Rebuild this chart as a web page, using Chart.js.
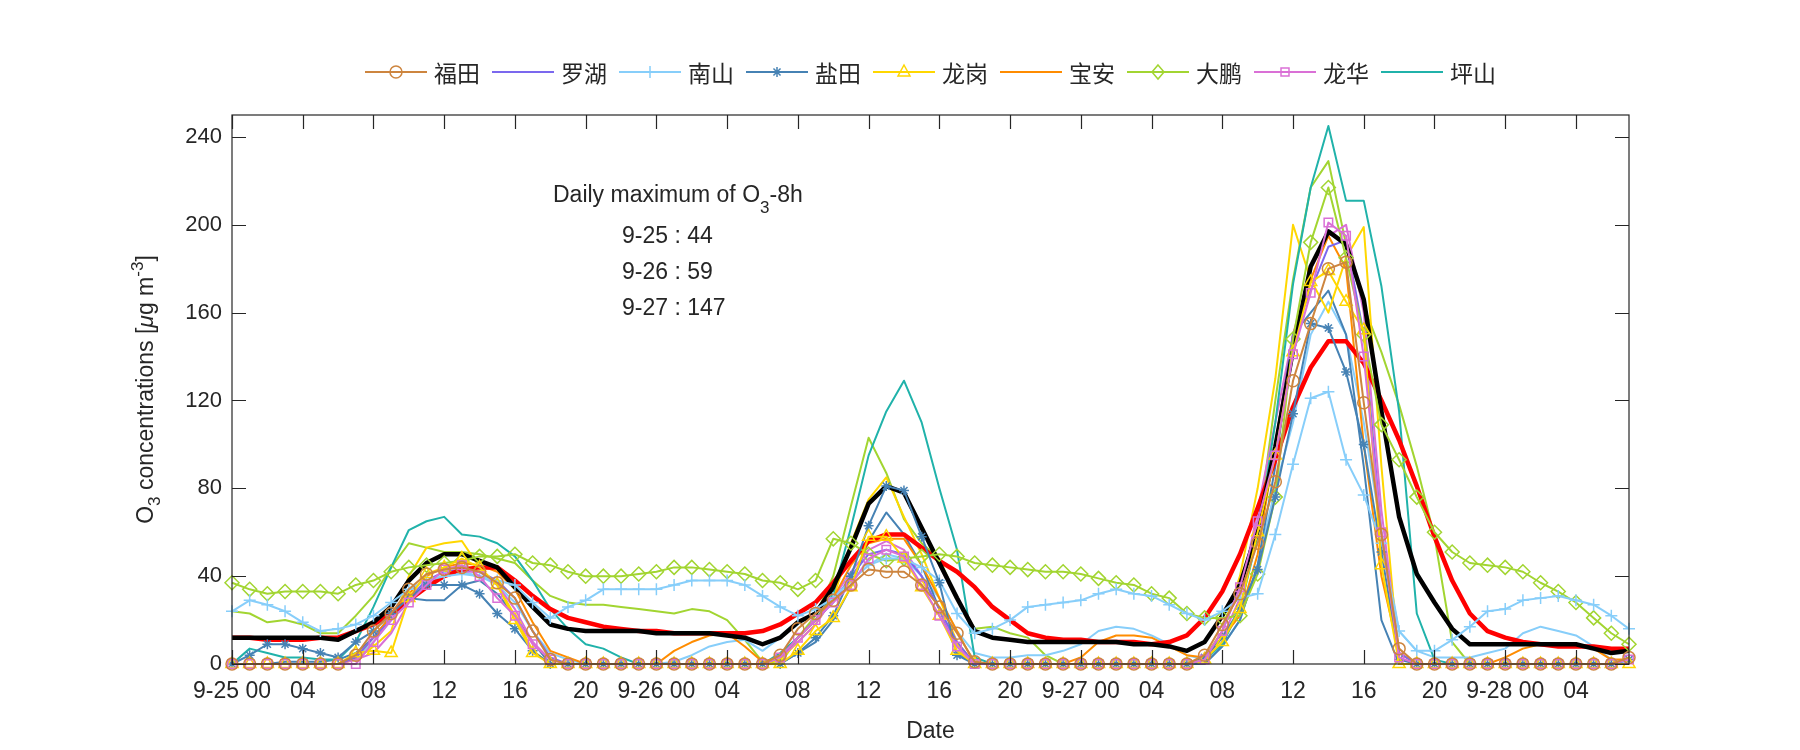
<!DOCTYPE html>
<html>
<head>
<meta charset="utf-8">
<script src="https://cdn.jsdelivr.net/npm/chart.js@4/dist/chart.umd.min.js"></script>
<style>
  html, body { margin: 0; padding: 0; background: #fff; }
  canvas { display: block; }
</style>
</head>
<body>
<canvas id="o3Chart" width="1800" height="750"></canvas>
<script>
// tick labels, one every 4 hours from 9-25 00 (hour 0) to 9-28 04 (hour 76)
const tickLabels = ["9-25 00", "04", "08", "12", "16", "20",
  "9-26 00", "04", "08", "12", "16", "20",
  "9-27 00", "04", "08", "12", "16", "20",
  "9-28 00", "04"];

const stationNames = ["福田", "罗湖", "南山", "盐田", "龙岗", "宝安", "大鹏", "龙华", "坪山"];
const dailyMax = ["9-25 : 44", "9-26 : 59", "9-27 : 147"];

// hourly O3, hour 0 = 9-25 00:00 ... hour 79 = 9-28 07:00
const futian = [
  0, 0, 0, 0, 0, 0, 0, 4, 15, 23, 34, 41, 43, 44, 42, 37, 30, 15, 2, 0, 0, 0, 0, 0,
  0, 0, 0, 0, 0, 0, 0, 4, 16, 23, 29, 36, 43, 42, 42, 36, 26, 14, 1, 0, 0, 0, 0, 0,
  0, 0, 0, 0, 0, 0, 0, 4, 18, 32, 55, 83, 129, 155, 180, 183, 119, 59, 7, 0, 0, 0, 0, 0,
  0, 0, 0, 0, 0, 0, 0, 3];
const luohu = [
  0, 0, 0, 0, 0, 0, 0, 3, 12, 20, 30, 38, 42, 43, 42, 38, 30, 15, 3, 0, 0, 0, 0, 0,
  0, 0, 0, 0, 0, 0, 0, 3, 12, 20, 28, 40, 50, 52, 50, 40, 25, 10, 0, 0, 0, 0, 0, 0,
  0, 0, 0, 0, 0, 0, 0, 2, 15, 35, 65, 100, 150, 170, 190, 193, 150, 60, 5, 0, 0, 0, 0, 0,
  0, 0, 0, 0, 0, 0, 0, 0];
const nanshan = [
  24, 29, 27, 24, 19, 15, 16, 18, 22, 28, 34, 38, 40, 41, 40, 38, 36, 28, 21, 26, 29, 34, 34, 34,
  34, 36, 38, 38, 38, 36, 31, 26, 22, 25, 30, 38, 45, 48, 48, 44, 38, 23, 14, 16, 20, 26, 27, 28,
  29, 32, 34, 32, 31, 27, 23, 20, 24, 30, 32, 59, 91, 121, 124, 93, 77, 55, 15, 6, 6, 11, 17, 24,
  25, 29, 30, 31, 29, 27, 22, 16];
const yantian = [
  0, 4, 9, 9, 7, 5, 3, 10, 15, 23, 30, 36, 36, 36, 32, 23, 16, 6, 0, 0, 0, 0, 0, 0,
  0, 0, 0, 0, 0, 0, 0, 0, 5, 12, 22, 40, 63, 81, 79, 58, 37, 4, 0, 0, 0, 0, 0, 0,
  0, 0, 0, 0, 0, 0, 0, 3, 12, 25, 43, 76, 114, 155, 153, 133, 100, 51, 2, 0, 0, 0, 0, 0,
  0, 0, 0, 0, 0, 0, 0, 2];
const longgang = [
  0, 0, 0, 0, 0, 0, 0, 5, 6, 5, 30, 41, 44, 48, 44, 36, 20, 5, 0, 0, 0, 0, 0, 0,
  0, 0, 0, 0, 0, 0, 0, 0, 6, 15, 21, 35, 58, 58, 48, 35, 22, 6, 0, 0, 0, 0, 0, 0,
  0, 0, 0, 0, 0, 0, 0, 2, 10, 25, 60, 95, 142, 174, 179, 165, 152, 45, 0, 0, 0, 0, 0, 0,
  0, 0, 0, 0, 0, 0, 0, 0];
const baoan = [
  0, 0, 0, 0, 0, 0, 0, 3, 12, 22, 32, 40, 44, 46, 45, 42, 34, 19, 6, 3, 0, 0, 0, 0,
  0, 6, 10, 13, 14, 8, 1, 3, 12, 20, 30, 45, 55, 57, 57, 45, 30, 15, 0, 0, 0, 0, 0, 0,
  3, 10, 13, 13, 12, 8, 4, 3, 12, 22, 50, 100, 150, 175, 195, 180, 100, 40, 5, 0, 0, 0, 0, 0,
  3, 7, 9, 8, 9, 7, 2, 2];
const dapeng = [
  37, 34, 32, 33, 33, 33, 32, 36, 38, 42, 44, 45, 46, 47, 49, 49, 50, 46, 45, 42, 40, 40, 40, 41,
  42, 44, 44, 43, 42, 41, 38, 37, 34, 38, 57, 55, 50, 47, 48, 49, 50, 49, 46, 45, 44, 43, 42, 42,
  41, 39, 37, 36, 32, 30, 23, 21, 21, 22, 41, 76, 148, 192, 217, 185, 150, 109, 93, 76, 60, 51, 46, 45,
  44, 42, 37, 33, 28, 21, 14, 9];
const longhua = [
  0, 0, 0, 0, 0, 0, 0, 0, 10, 20, 28, 36, 43, 45, 40, 30, 22, 9, 2, 0, 0, 0, 0, 0,
  0, 0, 0, 0, 0, 0, 0, 3, 12, 20, 28, 36, 48, 52, 49, 36, 22, 8, 0, 0, 0, 0, 0, 0,
  0, 0, 0, 0, 0, 0, 0, 2, 15, 35, 65, 95, 141, 169, 201, 195, 140, 60, 3, 0, 0, 0, 0, 0,
  0, 0, 0, 0, 0, 0, 0, 2];
const pingshan = [
  0, 7, 5, 3, 3, 2, 2, 10, 26, 44, 61, 65, 67, 59, 58, 55, 49, 38, 25, 16, 9, 7, 3, 0,
  0, 0, 0, 0, 0, 0, 0, 5, 12, 20, 32, 62, 95, 115, 129, 110, 80, 52, 3, 0, 0, 0, 0, 0,
  0, 0, 0, 0, 0, 0, 0, 2, 9, 25, 58, 110, 173, 217, 245, 211, 211, 172, 115, 23, 2, 0, 0, 0,
  0, 0, 0, 0, 0, 0, 0, 2];

// second (unmarked) curves of some stations, not in the legend
const nanshanB = [
  0, 0, 0, 0, 0, 0, 0, 3, 10, 20, 30, 36, 40, 42, 40, 36, 28, 15, 5, 2, 0, 0, 0, 0,
  0, 1, 4, 8, 10, 11, 6, 12, 18, 24, 30, 38, 45, 50, 48, 40, 30, 15, 5, 3, 3, 4, 4, 6,
  9, 15, 17, 16, 13, 9, 4, 2, 8, 20, 45, 80, 110, 150, 165, 150, 110, 60, 15, 6, 3, 3, 3, 5,
  7, 14, 17, 15, 13, 8, 2, 0];
const yantianB = [
  0, 0, 0, 1, 1, 1, 2, 5, 12, 22, 30, 29, 29, 36, 38, 32, 22, 10, 0, 0, 0, 0, 0, 0,
  0, 0, 0, 0, 0, 0, 0, 0, 5, 10, 20, 35, 56, 69, 59, 45, 25, 5, 0, 0, 0, 0, 0, 0,
  0, 0, 0, 0, 0, 0, 0, 0, 8, 20, 45, 90, 150, 160, 170, 150, 90, 20, 0, 0, 0, 0, 0, 0,
  0, 0, 0, 0, 0, 0, 0, 0];
const longgangB = [
  0, 0, 0, 0, 0, 0, 0, 2, 8, 15, 40, 53, 55, 56, 44, 36, 22, 6, 0, 0, 0, 0, 0, 0,
  0, 0, 0, 0, 0, 0, 0, 2, 10, 18, 30, 55, 75, 85, 67, 50, 30, 10, 0, 0, 0, 0, 0, 0,
  0, 0, 0, 0, 0, 0, 0, 3, 15, 40, 80, 130, 200, 175, 160, 185, 199, 90, 0, 0, 0, 0, 0, 0,
  0, 0, 0, 0, 0, 0, 0, 0];
const dapengB = [
  24, 23, 19, 20, 18, 14, 14, 22, 31, 44, 55, 53, 51, 51, 50, 48, 46, 38, 31, 28, 27, 27, 26, 25,
  24, 23, 25, 24, 20, 11, 1, 0, 12, 22, 40, 72, 103, 87, 66, 55, 48, 30, 16, 17, 14, 12, 4, 0,
  0, 0, 0, 0, 0, 0, 0, 0, 10, 25, 60, 120, 175, 217, 229, 191, 163, 142, 118, 90, 58, 10, 0, 0,
  0, 0, 0, 0, 0, 0, 0, 0];
const longhuaB = [
  0, 0, 0, 0, 0, 0, 0, 2, 5, 14, 28, 37, 40, 42, 42, 36, 25, 10, 2, 0, 0, 0, 0, 0,
  0, 0, 0, 0, 0, 0, 0, 3, 10, 18, 30, 42, 52, 56, 52, 40, 25, 8, 0, 0, 0, 0, 0, 0,
  0, 0, 0, 0, 0, 0, 0, 2, 12, 30, 70, 110, 150, 180, 195, 200, 160, 70, 5, 0, 0, 0, 0, 0,
  0, 0, 0, 0, 0, 0, 0, 0];

// thick black (hourly mean) and red (8h running mean)
const hourlyMean = [
  12, 12, 12, 12, 12, 12, 11, 15, 19, 26, 38, 46, 50, 50, 47, 44, 35, 26, 18, 16, 15, 15, 15, 15,
  14, 14, 14, 14, 13, 12, 9, 12, 19, 23, 35, 53, 73, 81, 78, 62, 46, 30, 15, 12, 11, 10, 10, 10,
  10, 10, 10, 9, 9, 8, 6, 10, 22, 36, 61, 99, 143, 181, 197, 191, 166, 115, 67, 41, 28, 16, 9, 9,
  9, 9, 9, 9, 9, 7, 5, 6];
const mean8h = [
  12, 12, 11, 11, 11, 12, 12, 15, 18, 23, 29, 35, 40, 43, 44, 44, 38, 31, 25, 21, 19, 17, 16, 15,
  15, 14, 14, 14, 14, 14, 15, 18, 23, 28, 37, 47, 56, 59, 59, 53, 47, 42, 35, 26, 20, 14, 12, 11,
  11, 10, 10, 10, 9, 10, 13, 21, 33, 50, 71, 93, 117, 135, 147, 147, 137, 120, 102, 81, 58, 38, 23, 15,
  12, 10, 9, 8, 8, 8, 7, 7];

const FONT = "'Liberation Sans', Arial, sans-serif";
const CJK = "'Noto Sans CJK SC', sans-serif";
const TXT = "#262626";

const colors = {
  futian: "#CD853F", luohu: "#7B68EE", nanshan: "#87CEFA", yantian: "#4682B4",
  longgang: "#FFD700", baoan: "#FF8C00", dapeng: "#A2D531", longhua: "#DA70D6", pingshan: "#20B2AA"
};

const toXY = (arr) => arr.map((v, i) => ({ x: i, y: v }));

function marked(label, arr, color, style, radius) {
  return {
    label: label, data: toXY(arr), borderColor: color, borderWidth: 2,
    pointStyle: style, pointRadius: radius, pointBorderWidth: 1.5,
    pointBorderColor: color, pointBackgroundColor: "rgba(0,0,0,0)",
    borderJoinStyle: "round", tension: 0, clip: false
  };
}
function plain(label, arr, color, width) {
  return {
    label: label, data: toXY(arr), borderColor: color, borderWidth: width || 2,
    pointRadius: 0, borderJoinStyle: "round", tension: 0, clip: false
  };
}

// first dataset is drawn on top
const datasets = [
  marked("福田", futian, colors.futian, "circle", 6),
  marked("龙华", longhua, colors.longhua, "rect", 6),
  marked("龙岗", longgang, colors.longgang, "triangle", 7),
  marked("盐田", yantian, colors.yantian, "star", 5),
  marked("南山", nanshan, colors.nanshan, "cross", 6),
  marked("大鹏", dapeng, colors.dapeng, "rectRot", 7),
  plain("mean", hourlyMean, "#000000", 4.5),
  plain("8h", mean8h, "#FF0000", 4.5),
  plain("罗湖", luohu, colors.luohu),
  plain("宝安", baoan, colors.baoan),
  plain("坪山", pingshan, colors.pingshan),
  plain("龙华b", longhuaB, colors.longhua),
  plain("龙岗b", longgangB, colors.longgang),
  plain("盐田b", yantianB, colors.yantian),
  plain("南山b", nanshanB, colors.nanshan),
  plain("大鹏b", dapengB, colors.dapeng)
];

const legendItems = [
  { name: stationNames[0], color: colors.futian, marker: "o" },
  { name: stationNames[1], color: colors.luohu, marker: "" },
  { name: stationNames[2], color: colors.nanshan, marker: "+" },
  { name: stationNames[3], color: colors.yantian, marker: "*" },
  { name: stationNames[4], color: colors.longgang, marker: "^" },
  { name: stationNames[5], color: colors.baoan, marker: "" },
  { name: stationNames[6], color: colors.dapeng, marker: "d" },
  { name: stationNames[7], color: colors.longhua, marker: "s" },
  { name: stationNames[8], color: colors.pingshan, marker: "" }
];

function drawMarker(ctx, m, x, y) {
  ctx.beginPath();
  if (m === "o") ctx.arc(x, y, 6, 0, Math.PI * 2);
  else if (m === "+") { ctx.moveTo(x - 6, y); ctx.lineTo(x + 6, y); ctx.moveTo(x, y - 6); ctx.lineTo(x, y + 6); }
  else if (m === "*") {
    for (let k = 0; k < 4; k++) {
      const a = k * Math.PI / 4;
      ctx.moveTo(x - 5 * Math.cos(a), y - 5 * Math.sin(a));
      ctx.lineTo(x + 5 * Math.cos(a), y + 5 * Math.sin(a));
    }
  }
  else if (m === "^") { ctx.moveTo(x, y - 7); ctx.lineTo(x + 6, y + 4); ctx.lineTo(x - 6, y + 4); ctx.closePath(); }
  else if (m === "d") { ctx.moveTo(x, y - 7); ctx.lineTo(x + 6, y); ctx.lineTo(x, y + 7); ctx.lineTo(x - 6, y); ctx.closePath(); }
  else if (m === "s") ctx.rect(x - 4, y - 4, 8, 8);
  ctx.stroke();
}

function richWidth(ctx, parts) {
  let w = 0;
  parts.forEach(([t, size, dy, it]) => {
    ctx.font = (it ? "italic " : "") + size + "px " + FONT;
    w += ctx.measureText(t).width;
  });
  return w;
}
function drawRich(ctx, parts, x, y) {
  let cx = x;
  parts.forEach(([t, size, dy, it]) => {
    ctx.font = (it ? "italic " : "") + size + "px " + FONT;
    ctx.fillText(t, cx, y + dy);
    cx += ctx.measureText(t).width;
  });
}

const decorations = {
  id: "decorations",
  afterDraw(chart) {
    const { ctx, chartArea: a, scales: { x, y } } = chart;
    ctx.save();

    // box + inward ticks on all sides
    ctx.strokeStyle = TXT;
    ctx.lineWidth = 1.2;
    ctx.strokeRect(a.left, a.top, a.right - a.left, a.bottom - a.top);
    ctx.beginPath();
    x.ticks.forEach((t) => {
      const px = Math.round(x.getPixelForValue(t.value)) + 0.5;
      ctx.moveTo(px, a.bottom); ctx.lineTo(px, a.bottom - 14);
      ctx.moveTo(px, a.top); ctx.lineTo(px, a.top + 14);
    });
    y.ticks.forEach((t) => {
      const py = Math.round(y.getPixelForValue(t.value)) + 0.5;
      ctx.moveTo(a.left, py); ctx.lineTo(a.left + 14, py);
      ctx.moveTo(a.right, py); ctx.lineTo(a.right - 14, py);
    });
    ctx.stroke();

    // y axis title with sub/superscripts
    ctx.fillStyle = TXT;
    ctx.textBaseline = "alphabetic";
    ctx.textAlign = "left";
    const yTitle = [["O", 23, 0], ["3", 17, 7], [" concentrations [", 23, 0], ["\u03bc", 23, 0, true],
      ["g m", 23, 0], ["-3", 17, -10], ["]", 23, 0]];
    const yw = richWidth(ctx, yTitle);
    ctx.save();
    ctx.translate(153, (a.top + a.bottom) / 2);
    ctx.rotate(-Math.PI / 2);
    drawRich(ctx, yTitle, -yw / 2, 0);
    ctx.restore();

    // annotation
    drawRich(ctx, [["Daily maximum of O", 23, 0], ["3", 17, 11], ["-8h", 23, 0]], a.left + 321, 202);
    ctx.font = "23px " + FONT;
    dailyMax.forEach((s, i) => ctx.fillText(s, a.left + 390, 243 + i * 36));

    // legend
    ctx.font = "23px " + CJK;
    const lineLen = 62, gapText = 7, gapItem = 12;
    const widths = legendItems.map((it) => lineLen + gapText + ctx.measureText(it.name).width);
    const total = widths.reduce((s, w) => s + w, 0) + gapItem * (legendItems.length - 1);
    let lx = (a.left + a.right) / 2 - total / 2;
    const ly = 72;
    ctx.textBaseline = "middle";
    legendItems.forEach((it, i) => {
      ctx.strokeStyle = it.color;
      ctx.lineWidth = 2;
      ctx.beginPath();
      ctx.moveTo(lx, ly); ctx.lineTo(lx + lineLen, ly);
      ctx.stroke();
      ctx.lineWidth = 1.5;
      if (it.marker) drawMarker(ctx, it.marker, lx + lineLen / 2, ly);
      ctx.fillStyle = TXT;
      ctx.fillText(it.name, lx + lineLen + gapText, ly + 1);
      lx += widths[i] + gapItem;
    });

    ctx.restore();
  }
};

Chart.defaults.font.family = FONT;
Chart.defaults.font.size = 23;
Chart.defaults.color = TXT;

new Chart(document.getElementById("o3Chart"), {
  type: "line",
  data: { datasets: datasets },
  options: {
    responsive: false,
    animation: false,
    devicePixelRatio: 1,
    layout: { padding: { left: 0, right: 171, top: 115, bottom: 0 } },
    plugins: { legend: { display: false }, tooltip: { enabled: false } },
    scales: {
      x: {
        type: "linear", min: 0, max: 79,
        grid: { display: false, drawTicks: false },
        border: { display: false },
        ticks: {
          stepSize: 4, includeBounds: false, autoSkip: false, maxRotation: 0, padding: 14,
          callback: (v) => tickLabels[v / 4]
        },
        title: { display: true, text: "Date", padding: { top: 5, bottom: 5 } },
        afterFit: (s) => { s.height = 86; }
      },
      y: {
        min: 0, max: 250,
        grid: { display: false, drawTicks: false },
        border: { display: false },
        ticks: { stepSize: 40, includeBounds: false, padding: 10, font: { size: 22 } },
        afterFit: (s) => { s.width = 232; }
      }
    }
  },
  plugins: [decorations]
});
</script>
</body>
</html>
